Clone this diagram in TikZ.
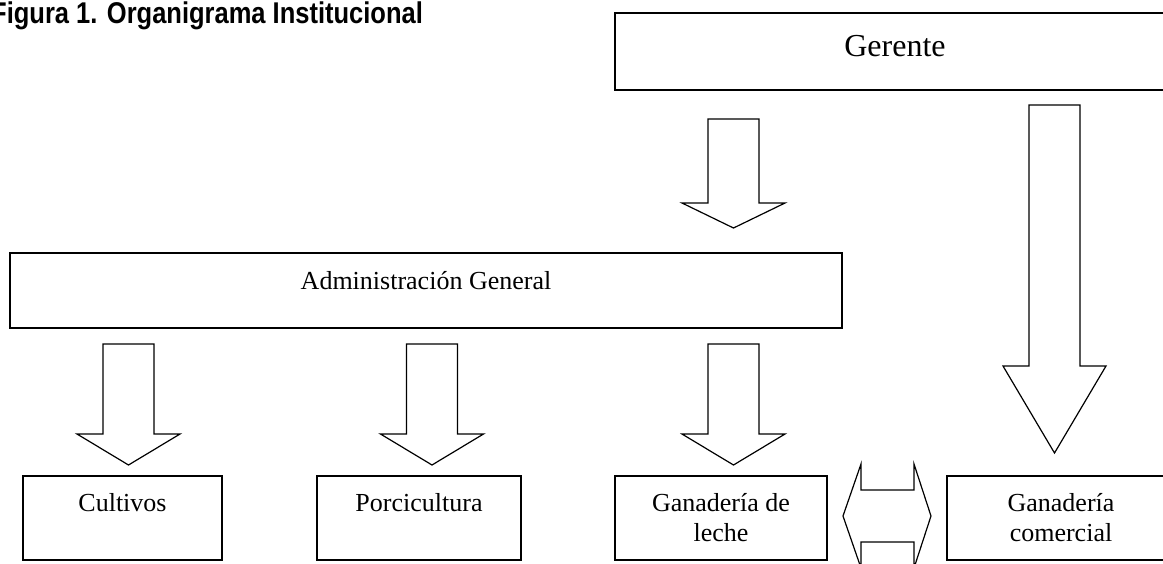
\documentclass[tikz,border=0pt]{standalone}
\usepackage{graphicx}
\usepackage{fontspec}
\setmainfont{Liberation Serif}
\newfontfamily\titlefont{Liberation Sans}
\tikzset{
  unit/.style={draw,line width=1.5pt,inner sep=0pt,minimum height=84pt,
    font=\fontsize{26}{30}\selectfont,align=center},
  lift/.style={text height=18pt,text depth=#1},
  blk/.style={draw,line width=1.2pt,line join=miter,fill=white}
}
% block arrow pointing down: x centre, top, head base, tip
\newcommand{\flecha}[4]{%
  \draw[blk] (#1-25.5,#2) -- (#1+25.5,#2) -- (#1+25.5,#3) -- (#1+51.5,#3)
    -- (#1,#4) -- (#1-51.5,#3) -- (#1-25.5,#3) -- cycle;}
\begin{document}
\begin{tikzpicture}[x=1pt,y=-1pt]
  \useasboundingbox (0,0) rectangle (1163,563);
  \node[anchor=base west,inner sep=0pt,font=\titlefont\bfseries\fontsize{30}{34}\selectfont]
    (title) at (-9,23) {\scalebox{0.85}[1]{Figura 1. Organigrama Institucional}};
  % boxes
  \node[unit,lift=7.8pt,minimum width=560pt,minimum height=77pt,
    font=\fontsize{32}{36}\selectfont] (ger) at (895,51.5) {Gerente};
  \node[unit,lift=20.8pt,minimum width=832pt,minimum height=75pt] (adm) at (426,290.5) {Administración General};
  \node[unit,lift=30.8pt,minimum width=199pt] (cult) at (122.5,518) {Cultivos};
  \node[unit,lift=30.8pt,minimum width=204pt] (porc) at (419,518) {Porcicultura};
  \node[unit,minimum width=212pt] (leche) at (721,518) {Ganadería de\\leche};
  \node[unit,minimum width=228pt] (com) at (1061,518) {Ganadería\\comercial};
  % arrows
  \flecha{733.5}{119}{203}{228}
  \flecha{1054.5}{105}{366}{453}
  \flecha{128.5}{344}{434}{465}
  \flecha{432}{344}{434}{465}
  \flecha{733.5}{344}{434}{465}
  % both ways between the two ganaderias
  \draw[blk] (861,490) -- (914,490) -- (914,464) -- (931,516) -- (914,568)
    -- (914,542) -- (861,542) -- (861,568) -- (843,516) -- (861,464) -- cycle;
\end{tikzpicture}
\end{document}
